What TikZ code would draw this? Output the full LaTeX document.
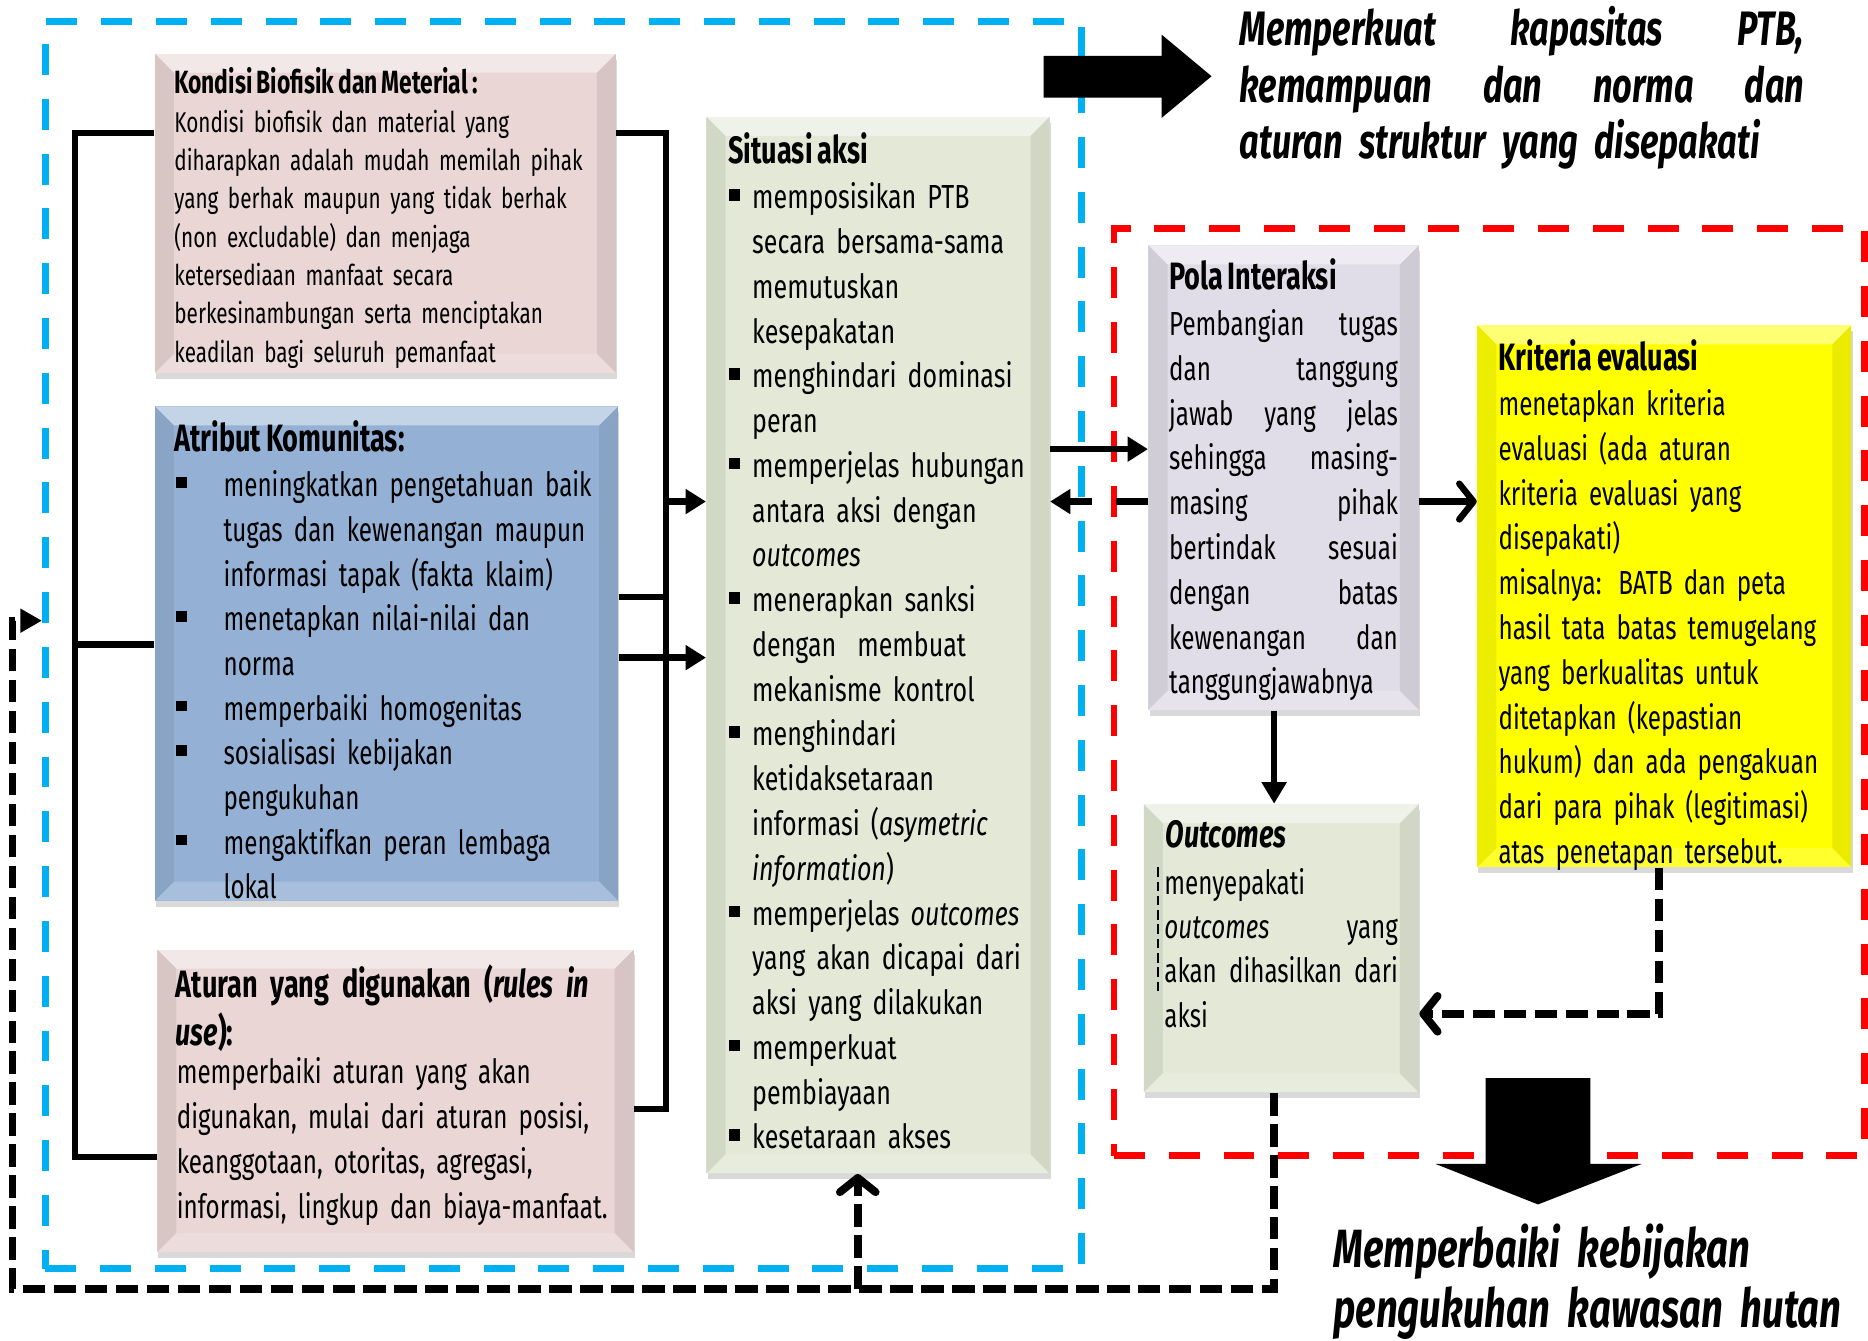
\documentclass[tikz,border=0pt]{standalone}
\usepackage{fontspec}
\setmainfont{Fira Sans}[
  WordSpace=0.75,
  UprightFeatures={FakeStretch=0.725},
  ItalicFeatures={FakeStretch=0.725},
  BoldFeatures={FakeStretch=0.71},
  BoldItalicFeatures={FakeStretch=0.71}]
\newfontfamily\situasifont{Fira Sans}[
  WordSpace=0.75,
  UprightFeatures={FakeStretch=0.75},
  ItalicFeatures={FakeStretch=0.75},
  BoldFeatures={FakeStretch=0.71},
  BoldItalicFeatures={FakeStretch=0.71}]
\usetikzlibrary{arrows.meta,shadows,fit}

\definecolor{pinkbox}{HTML}{E9D6D5}
\definecolor{bluebox}{HTML}{94B1D5}
\definecolor{greenbox}{HTML}{E3E9D6}
\definecolor{lilacbox}{HTML}{E1DDE8}
\definecolor{yellowbox}{HTML}{FFFF00}
\definecolor{frameblue}{HTML}{00B0F0}
\definecolor{framered}{HTML}{FF0000}

% square list bullets hanging to the left of the text
\newcommand\sqbullet[3]{\leavevmode\llap{\raisebox{#2}{\rule{#3}{#3}}\hspace{#1}}}
\newcommand\itemA{\sqbullet{15.3pt}{3.7pt}{4.5pt}}
\newcommand\itemB{\sqbullet{5pt}{3.4pt}{4.8pt}}
% a justified line of a given width (words separated by \hfill)
\newcommand\jline[2]{\leavevmode\hbox to #1{#2}}

\tikzset{
  headA/.tip={Triangle[length=8.5pt,width=10pt]},
  barbA/.tip={Straight Barb[length=6pt,width=15pt,round]},
  bevel/.style={path picture={
    \coordinate (bnw) at (path picture bounding box.north west);
    \coordinate (bne) at (path picture bounding box.north east);
    \coordinate (bsw) at (path picture bounding box.south west);
    \coordinate (bse) at (path picture bounding box.south east);
    \fill[white,opacity=0.45] (bnw) -- (bne) -- ([shift={(-8pt,-8pt)}]bne) -- ([shift={(8pt,-8pt)}]bnw) -- cycle;
    \fill[black,opacity=0.07] (bnw) -- ([shift={(8pt,-8pt)}]bnw) -- ([shift={(8pt,8pt)}]bsw) -- (bsw) -- cycle;
    \fill[black,opacity=0.08] (bne) -- ([shift={(-8pt,-8pt)}]bne) -- ([shift={(-8pt,8pt)}]bse) -- (bse) -- cycle;
    \fill[white,opacity=0.18] (bsw) -- ([shift={(8pt,8pt)}]bsw) -- ([shift={(-8pt,8pt)}]bse) -- (bse) -- cycle;
  }},
  box/.style={inner sep=0pt, bevel,
    drop shadow={shadow xshift=0.5pt, shadow yshift=-2.5pt, opacity=0.3}},
  frame/.style={line width=2.8pt, dash pattern=on 13pt off 10pt, inner sep=0pt},
  conn/.style={line width=2.7pt, black},
  dashblack/.style={line width=3.3pt, black, dash pattern=on 9.5pt off 3.5pt},
  para/.style={anchor=north west, inner sep=0pt, align=left,
    execute at begin node={\parindent=0pt}},
  head/.style={anchor=base west, inner sep=0pt, font=\bfseries\fontsize{16}{19}\selectfont},
  body/.style={para, font=\fontsize{14}{18.8}\selectfont},
}

\begin{document}
\begin{tikzpicture}[x=0.5pt,y=-0.5pt]
\useasboundingbox (0,0) rectangle (1568,1125);

% dashed frames
\node[frame, draw=frameblue, fit={(38,18) (908,1065)}] (arena) {};
\node[frame, draw=framered, fit={(935,192) (1565,970)}] (evalzone) {};

% boxes
\node[box, fill=pinkbox,  fit={(130,45) (517,313)}]   (kondisi) {};
\node[box, fill=bluebox,  fit={(130,341) (519,756)}]  (atribut) {};
\node[box, fill=pinkbox,  fit={(132,797) (532,1051)}] (aturan) {};
\node[box, fill=greenbox, fit={(593,98) (881,985)}]   (situasi) {};
\node[box, fill=lilacbox, fit={(964,206) (1191,596)}] (pola) {};
\node[box, fill=yellowbox,fit={(1240,273) (1554,728)}] (kriteria) {};
\node[box, fill=greenbox, fit={(960,675) (1191,917)}] (outcomes) {};

% bracket on the left of the three attribute boxes
\coordinate (lbtop) at (63,111.5);
\coordinate (lbmid) at (63,541);
\coordinate (lbbot) at (63,971);
\draw[conn] (kondisi.west |- lbtop) -- (lbtop) -- (lbbot) -- (aturan.west |- lbbot);
\draw[conn] (atribut.west |- lbmid) -- (lbmid);

% bracket on the right, feeding the action situation
\coordinate (rbtop) at (559,111.5);
\coordinate (rbmid) at (559,501);
\coordinate (rbarr) at (559,421);
\coordinate (rbbot) at (559,931);
\coordinate (atarr) at (540,552);
\draw[conn] (kondisi.east |- rbtop) -- (rbtop) -- (rbbot) -- (aturan.east |- rbbot);
\draw[conn] (atribut.east |- rbmid) -- (rbmid);
\draw[conn,-{headA}] (rbarr) -- (situasi.west |- rbarr);
\draw[conn,-{headA}] (atribut.east |- atarr) -- (situasi.west |- atarr);

% action situation <-> patterns of interaction
\coordinate (sp1) at (920,377);
\coordinate (sp2) at (920,421);
\draw[conn,-{headA}] (situasi.east |- sp1) -- (pola.west |- sp1);
\draw[conn,dash pattern=on 13.5pt off 10pt,-{headA}] (pola.west |- sp2) -- (situasi.east |- sp2);

% patterns -> criteria, patterns -> outcomes
\coordinate (pk) at (1215,421);
\coordinate (po) at (1069.5,640);
\draw[conn,-{barbA}] (pola.east |- pk) -- (kriteria.west |- pk);
\draw[conn,-{Triangle[length=9pt,width=10pt]}] (pola.south -| po) -- (outcomes.north -| po);

% criteria -> outcomes (dashed)
\coordinate (ko) at (1392.5,851);
\draw[dashblack,-{barbA}] (kriteria.south -| ko) -- (ko) -- (outcomes.east |- ko);

% feedback loop from the outcomes
\coordinate (fb1) at (1069.5,1082);
\coordinate (fb2) at (10.5,1082);
\coordinate (fb3) at (10.5,521);
\coordinate (fb5) at (720,1082);
\draw[dashblack,-{Triangle[length=9pt,width=9.5pt]}] (outcomes.south -| fb1) -- (fb1) -- (fb2) -- (fb3) -- (arena.west |- fb3);
\draw[dashblack,-{barbA}] (fb5) -- (situasi.south -| fb5);

% small dashed marker in the outcomes box
\draw[line width=0.6pt, dash pattern=on 4pt off 2pt] (972,728) -- (972,834);

% block arrows
\fill (876,47) -- (975,47) -- (975,29) -- (1017,64) -- (975,99) -- (975,82) -- (876,82) -- cycle;
\fill (1247,905) -- (1335,905) -- (1335,977) -- (1378,977) -- (1291,1011) -- (1205,977) -- (1247,977) -- cycle;

% box texts
\node[head, font=\bfseries\fontsize{13.5}{16}\selectfont] (kondisiHead) at (146,78.3) {Kondisi Biofisik dan Meterial :};
\node[para, font=\fontsize{12}{16.1}\selectfont, text width=186pt] (kondisiText) at (146,88) {\strut Kondisi biofisik dan material yang\\
diharapkan adalah mudah memilah pihak\\
yang berhak maupun yang tidak berhak\\
(non excludable) dan menjaga\\
ketersediaan manfaat secara\\
berkesinambungan serta menciptakan\\
keadilan bagi seluruh pemanfaat};

\node[head] (atributHead) at (146,379) {Atribut Komunitas:};
\node[body, font=\fontsize{14}{18.75}\selectfont, text width=165pt] (atributText) at (187.3,390.3) {\strut\itemA meningkatkan pengetahuan baik\\
tugas dan kewenangan maupun\\
informasi tapak (fakta klaim)\\
\itemA menetapkan nilai-nilai dan\\
norma\\
\itemA memperbaiki homogenitas\\
\itemA sosialisasi kebijakan\\
pengukuhan\\
\itemA mengaktifkan peran lembaga\\
lokal};

\node[para, font=\bfseries\fontsize{16}{18.25}\selectfont, text width=190pt] (aturanHead) at (147,809.5) {\strut Aturan yang digunakan (\textit{rules in}\\
\textit{use}):};
\node[body, font=\fontsize{14}{18.95}\selectfont, text width=190pt] (aturanText) at (148,882.5) {\strut memperbaiki aturan yang akan\\
digunakan, mulai dari aturan posisi,\\
keanggotaan, otoritas, agregasi,\\
informasi, lingkup dan biaya-manfaat.};

\node[head] (situasiHead) at (611,137) {Situasi aksi};
\node[body, font=\situasifont\fontsize{14}{18.79}\selectfont, text width=124pt] (situasiText) at (631,148.5) {\strut\itemB memposisikan PTB\\
secara bersama-sama\\
memutuskan\\
kesepakatan\\
\itemB menghindari dominasi\\
peran\\
\itemB memperjelas hubungan\\
antara aksi dengan\\
\textit{outcomes}\\
\itemB menerapkan sanksi\\
dengan\hspace{0.3em} membuat\\
mekanisme kontrol\\
\itemB menghindari\\
ketidaksetaraan\\
informasi (\textit{asymetric}\\
\textit{information})\\
\itemB memperjelas \textit{outcomes}\\
yang akan dicapai dari\\
aksi yang dilakukan\\
\itemB memperkuat\\
pembiayaan\\
\itemB kesetaraan akses};

\node[head] (polaHead) at (981,243.4) {Pola Interaksi};
\node[body, text width=96pt] (polaText) at (981,254.9) {\strut\jline{96pt}{Pembangian\hfill tugas}\\
\jline{96pt}{dan\hfill tanggung}\\
\jline{96pt}{jawab\hfill yang\hfill jelas}\\
\jline{96pt}{sehingga\hfill masing-}\\
\jline{96pt}{masing\hfill pihak}\\
\jline{96pt}{bertindak\hfill sesuai}\\
\jline{96pt}{dengan\hfill batas}\\
\jline{96pt}{kewenangan\hfill dan}\\
tanggungjawabnya};

\node[head] (kriteriaHead) at (1257.5,310.6) {Kriteria evaluasi};
\node[body, text width=146pt] (kriteriaText) at (1257.5,322.1) {\strut menetapkan kriteria\\
evaluasi (ada aturan\\
kriteria evaluasi yang\\
disepakati)\\
misalnya: BATB dan peta\\
hasil tata batas temugelang\\
yang berkualitas untuk\\
ditetapkan (kepastian\\
hukum) dan ada pengakuan\\
dari para pihak (legitimasi)\\
atas penetapan tersebut.};

\node[head, font=\bfseries\itshape\fontsize{16}{19}\selectfont] (outcomesHead) at (978,711.6) {Outcomes};
\node[body, font=\fontsize{14}{18.55}\selectfont, text width=98pt] (outcomesText) at (977,724.4) {\strut menyepakati\\
\jline{98pt}{\textit{outcomes}\hfill yang}\\
\jline{98pt}{akan\hfill dihasilkan\hfill dari}\\
aksi};

% results
\node[para, font=\bfseries\itshape\fontsize{20.3}{23.8}\selectfont, text width=237pt] (hasilA) at (1040,4.5) {\strut\jline{237pt}{Memperkuat\hfill kapasitas\hfill PTB,}\\
\jline{237pt}{kemampuan\hfill dan\hfill norma\hfill dan}\\
aturan struktur yang disepakati};
\node[para, font=\bfseries\itshape\fontsize{22.6}{25}\selectfont, text width=230pt] (hasilB) at (1119,1027) {\strut Memperbaiki kebijakan\\
pengukuhan kawasan hutan};
\end{tikzpicture}
\end{document}
